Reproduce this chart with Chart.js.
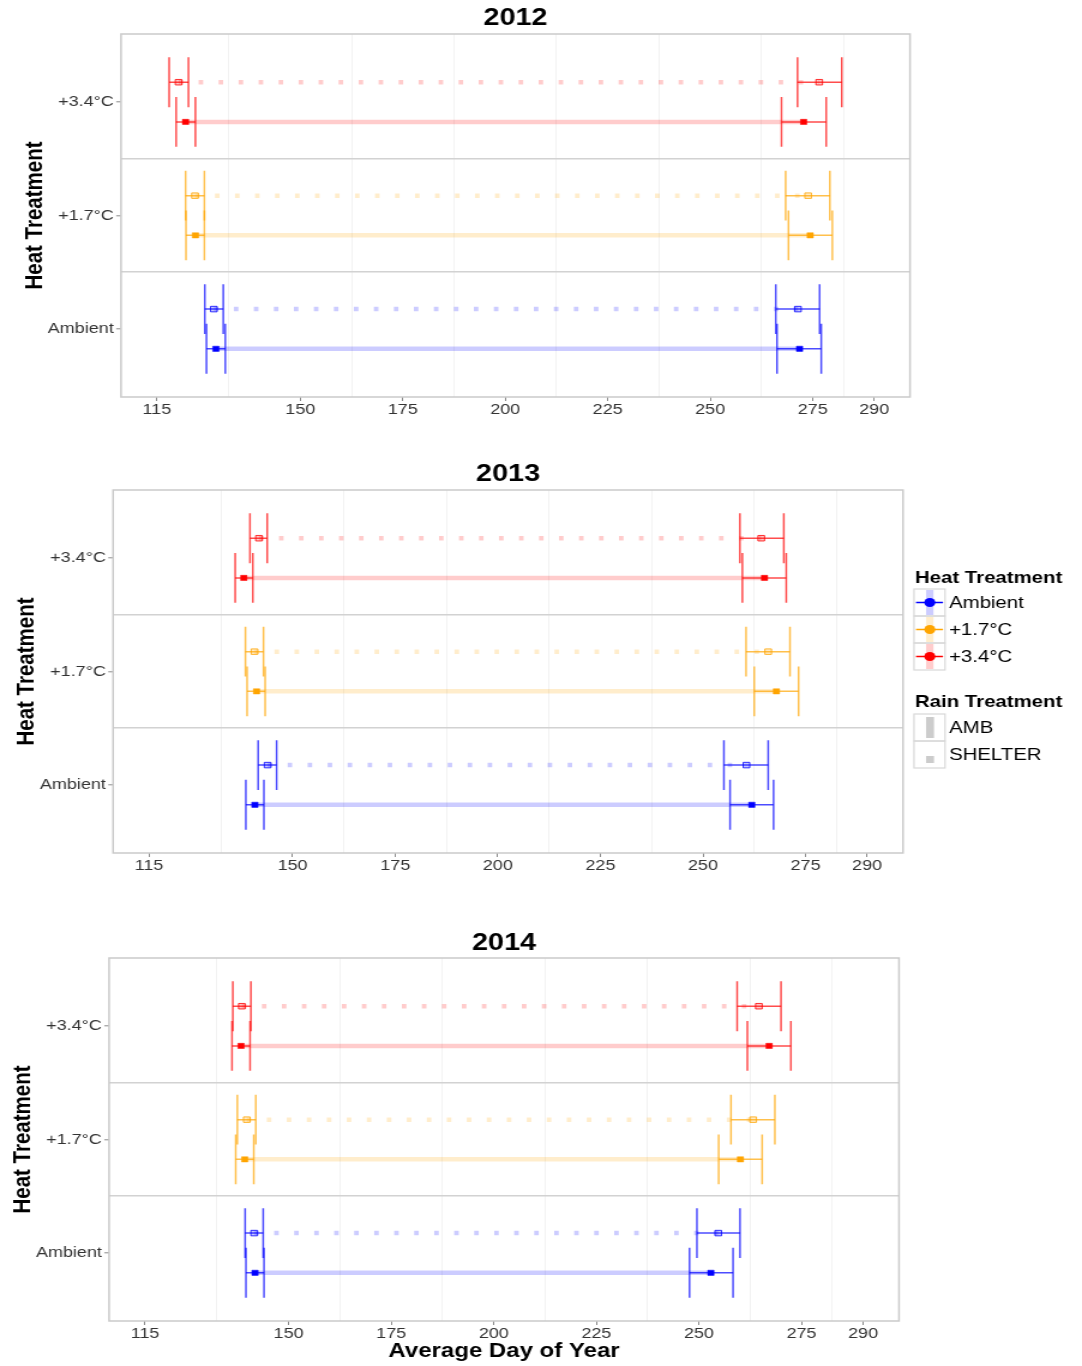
<!DOCTYPE html>
<html>
<head>
<meta charset="utf-8">
<script src="https://cdn.jsdelivr.net/npm/chart.js@4.4.1/dist/chart.umd.min.js"></script>
<style>
  html, body { margin: 0; padding: 0; background: #fff; width: 1082px; height: 1366px; overflow: hidden; }
  canvas.panel { position: absolute; left: 0; transform-origin: 0 0; }
</style>
</head>
<body>
<canvas id="c2012" class="panel"></canvas>
<canvas id="c2013" class="panel"></canvas>
<canvas id="c2014" class="panel"></canvas>
<script>
// ---- categories and axis breaks ----
const heatLevels = ['Ambient', '+1.7°C', '+3.4°C'];
const rainLevels = ['AMB', 'SHELTER'];
const years = ['2012', '2013', '2014'];
const xBreaks = [115, 150, 175, 200, 225, 250, 275, 290];
const xMinorBreaks = [132.5, 162.5, 187.5, 212.5, 237.5, 262.5, 282.5];
const xLimits = [115, 290];

// ---- season start / end, day of year: [low, mean, high] for Ambient, +1.7°C, +3.4°C ----
const start2012Amb     = [[127.1, 129.4, 131.7], [122.1, 124.4, 126.6], [119.7, 122.0, 124.4]];
const end2012Amb       = [[266.3, 271.8, 277.1], [269.1, 274.4, 279.8], [267.4, 272.8, 278.3]];
const start2012Shelter = [[126.7, 128.9, 131.2], [122.0, 124.3, 126.6], [118.0, 120.3, 122.7]];
const end2012Shelter   = [[266.0, 271.4, 276.7], [268.4, 273.9, 279.2], [271.3, 276.6, 282.1]];

const start2013Amb     = [[138.6, 140.8, 143.0], [138.9, 141.2, 143.3], [136.0, 138.1, 140.3]];
const end2013Amb       = [[256.6, 261.9, 267.2], [262.5, 267.9, 273.3], [259.6, 265.0, 270.3]];
const start2013Shelter = [[141.6, 143.9, 146.1], [138.5, 140.7, 142.9], [139.6, 141.8, 143.8]];
const end2013Shelter   = [[255.1, 260.6, 265.9], [260.5, 265.9, 271.2], [259.0, 264.2, 269.7]];

const start2014Amb     = [[139.6, 141.8, 144.0], [137.1, 139.3, 141.5], [136.2, 138.4, 140.6]];
const end2014Amb       = [[247.7, 252.9, 258.3], [254.8, 260.1, 265.4], [261.8, 267.1, 272.4]];
const start2014Shelter = [[139.4, 141.6, 143.8], [137.5, 139.8, 142.0], [136.4, 138.6, 140.8]];
const end2014Shelter   = [[249.5, 254.7, 260.0], [257.8, 263.2, 268.5], [259.3, 264.6, 270.0]];

const seasons = {
  '2012': { AMB: [start2012Amb, end2012Amb], SHELTER: [start2012Shelter, end2012Shelter] },
  '2013': { AMB: [start2013Amb, end2013Amb], SHELTER: [start2013Shelter, end2013Shelter] },
  '2014': { AMB: [start2014Amb, end2014Amb], SHELTER: [start2014Shelter, end2014Shelter] }
};

// ---- styling ----
const heatRGB = ['0,0,255', '255,165,0', '255,0,0'];
const FONT = "'Liberation Sans', Arial, Helvetica, sans-serif";
const CW = 902;                    // drawing width of each canvas
const X_SCALE = 1082 / CW;         // the figure is shown horizontally widened
const ROW_OFFSET = 0.175;          // rain treatments dodged around each heat level
const CAP_HALF = 0.22;             // half-height of error-bar end caps
const TRANSPARENT = 'rgba(0,0,0,0)';
const xPad = (xLimits[1] - xLimits[0]) * 0.05;

// page-pixel layout of the three panels
const panels = [
  { year: '2012', top: 0,   height: 430, area: { left: 121,   right: 910, top: 34,  bottom: 397 },  yTitleX: 35, titleY: 18,  xTitle: false, legend: false },
  { year: '2013', top: 445, height: 430, area: { left: 113.1, right: 903, top: 490, bottom: 853 },  yTitleX: 27, titleY: 474, xTitle: false, legend: true },
  { year: '2014', top: 915, height: 451, area: { left: 109.1, right: 899, top: 958, bottom: 1321 }, yTitleX: 23, titleY: 943, xTitle: true,  legend: false }
];

function seg(points, extra) {
  return Object.assign({ data: points, showLine: true, pointRadius: 0, pointHoverRadius: 0, fill: false, tension: 0 }, extra);
}

function buildDatasets(year) {
  const out = [];
  rainLevels.forEach(rain => {
    const [start, end] = seasons[year][rain];
    const shelter = rain === 'SHELTER';
    heatLevels.forEach((heat, i) => {
      const rgb = heatRGB[i];
      const y = i + 1 + (shelter ? ROW_OFFSET : -ROW_OFFSET);
      const s = start[i], e = end[i];
      // season span, start mean to end mean
      out.push(seg([{ x: s[1], y }, { x: e[1], y }], {
        label: heat + ' ' + rain,
        borderColor: 'rgba(' + rgb + ',0.2)',
        borderWidth: shelter ? 4.5 : 4.5,
        borderDash: shelter ? [4.6 / X_SCALE, 15.4 / X_SCALE] : [],
        borderCapStyle: 'butt',
        order: 4
      }));
      [s, e].forEach(r => {
        // horizontal error bar
        out.push(seg([{ x: r[0], y }, { x: r[2], y }], { borderColor: 'rgba(' + rgb + ',0.7)', borderWidth: 1.5, order: 3 }));
        // end caps
        [r[0], r[2]].forEach(v => {
          out.push(seg([{ x: v, y: y - CAP_HALF }, { x: v, y: y + CAP_HALF }], { borderColor: 'rgba(' + rgb + ',0.7)', borderWidth: 1.5, order: 2 }));
        });
      });
      // mean markers
      out.push({
        data: [{ x: s[1], y }, { x: e[1], y }],
        showLine: false,
        pointStyle: 'rect',
        pointRadius: shelter ? 3.9 : 3.7,
        pointHoverRadius: shelter ? 3.9 : 3.7,
        pointBackgroundColor: shelter ? 'rgba(' + rgb + ',0.22)' : 'rgb(' + rgb + ')',
        pointBorderColor: shelter ? 'rgba(' + rgb + ',0.8)' : 'rgb(' + rgb + ')',
        pointBorderWidth: shelter ? 1 : 0.5,
        order: 1
      });
    });
  });
  return out;
}

// panel frame and year title
const framePlugin = {
  id: 'frameTitle',
  afterDraw(chart, args, opts) {
    const { ctx, chartArea: a } = chart;
    ctx.save();
    ctx.strokeStyle = '#cacaca';
    ctx.lineWidth = 1.5;
    ctx.strokeRect(a.left, a.top, a.right - a.left, a.bottom - a.top);
    ctx.fillStyle = '#000';
    ctx.font = 'bold 24px ' + FONT;
    ctx.textAlign = 'center';
    ctx.textBaseline = 'middle';
    ctx.fillText(opts.text, (a.left + a.right) / 2, opts.y);
    ctx.restore();
  }
};

// legend for both treatments
const legendPlugin = {
  id: 'treatmentLegend',
  afterDraw(chart, args, opts) {
    if (!opts.show) return;
    const ctx = chart.ctx;
    const X = v => v / X_SCALE, Y = v => v - opts.top;
    const keyL = 914, keyR = 945, keyH = 27;
    ctx.save();
    ctx.textAlign = 'left';
    ctx.textBaseline = 'middle';
    ctx.fillStyle = '#000';
    ctx.font = 'bold 17px ' + FONT;
    ctx.fillText('Heat Treatment', X(915), Y(578));
    heatLevels.forEach((lab, i) => {
      const y0 = 589 + i * keyH, yc = y0 + keyH / 2;
      const rgb = heatRGB[i];
      ctx.fillStyle = 'rgba(' + rgb + ',0.2)';
      ctx.fillRect(X(926), Y(y0 + 1), X(933.5) - X(926), keyH - 2);
      ctx.strokeStyle = 'rgb(' + rgb + ')';
      ctx.lineWidth = 1.5;
      ctx.beginPath(); ctx.moveTo(X(916), Y(yc)); ctx.lineTo(X(943), Y(yc)); ctx.stroke();
      ctx.fillStyle = 'rgb(' + rgb + ')';
      ctx.beginPath(); ctx.arc(X(929.8), Y(yc), 4.6, 0, Math.PI * 2); ctx.fill();
      ctx.strokeStyle = '#d8d8d8';
      ctx.lineWidth = 1.2;
      ctx.strokeRect(X(keyL), Y(y0), X(keyR) - X(keyL), keyH);
      ctx.fillStyle = '#000';
      ctx.font = '17px ' + FONT;
      ctx.fillText(lab, X(949), Y(yc + 0.5));
    });
    ctx.font = 'bold 17px ' + FONT;
    ctx.fillText('Rain Treatment', X(915), Y(702));
    rainLevels.forEach((lab, i) => {
      const y0 = 714 + i * keyH, yc = y0 + keyH / 2;
      ctx.fillStyle = '#cccccc';
      if (lab === 'AMB') ctx.fillRect(X(926), Y(717), X(934) - X(926), 21);
      else ctx.fillRect(X(926), Y(756), X(934) - X(926), 7);
      ctx.strokeStyle = '#d8d8d8';
      ctx.lineWidth = 1.2;
      ctx.strokeRect(X(keyL), Y(y0), X(keyR) - X(keyL), keyH);
      ctx.fillStyle = '#000';
      ctx.font = '17px ' + FONT;
      ctx.fillText(lab, X(949), Y(yc + 0.5));
    });
    ctx.restore();
  }
};

function makeChart(p) {
  const cv = document.getElementById('c' + p.year);
  cv.width = CW; cv.height = p.height;
  cv.style.width = CW + 'px'; cv.style.height = p.height + 'px';
  cv.style.top = p.top + 'px';
  const left = p.area.left / X_SCALE;
  const right = p.area.right / X_SCALE;
  const top = p.area.top - p.top;
  const bottom = p.area.bottom - p.top;
  const yTitleFont = 20.5;
  const yTitlePad = p.yTitleX / X_SCALE - yTitleFont * 1.2 / 2;

  new Chart(cv, {
    type: 'scatter',
    data: { datasets: buildDatasets(p.year) },
    options: {
      responsive: false,
      maintainAspectRatio: false,
      devicePixelRatio: 1,
      animation: false,
      events: [],
      layout: { padding: { left: 0, right: CW - right, top: top, bottom: 0 } },
      plugins: {
        legend: { display: false },
        tooltip: { enabled: false },
        frameTitle: { text: p.year, y: p.titleY - p.top },
        treatmentLegend: { show: p.legend, top: p.top }
      },
      scales: {
        x: {
          type: 'linear',
          min: xLimits[0] - xPad,
          max: xLimits[1] + xPad,
          afterBuildTicks: ax => {
            ax.ticks = xBreaks.concat(xMinorBreaks).sort((a, b) => a - b).map(v => ({ value: v }));
          },
          afterFit: ax => { ax.height = p.height - bottom; },
          border: { display: false },
          grid: {
            color: c => (c.tick && xMinorBreaks.includes(c.tick.value)) ? '#f2f2f2' : TRANSPARENT,
            lineWidth: 1,
            tickLength: 4,
            tickWidth: 1,
            tickColor: c => (c.tick && xBreaks.includes(c.tick.value)) ? '#8a8a8a' : TRANSPARENT
          },
          ticks: {
            autoSkip: false,
            maxRotation: 0,
            padding: 0,
            color: '#333',
            font: { family: FONT, size: 15 },
            callback: v => xBreaks.includes(v) ? String(v) : ''
          },
          title: {
            display: p.xTitle,
            text: 'Average Day of Year',
            color: '#000',
            font: { family: FONT, size: 20, weight: 'bold' },
            padding: { top: 0, bottom: 3 }
          }
        },
        y: {
          type: 'linear',
          min: 0.4,
          max: 3.6,
          afterBuildTicks: ax => { ax.ticks = [1, 1.5, 2, 2.5, 3].map(v => ({ value: v })); },
          afterFit: ax => { ax.width = left; },
          border: { display: false },
          grid: {
            color: c => (c.tick && !Number.isInteger(c.tick.value)) ? '#d2d2d2' : TRANSPARENT,
            lineWidth: 1.6,
            tickLength: 4,
            tickWidth: 1,
            tickColor: c => (c.tick && Number.isInteger(c.tick.value)) ? '#8a8a8a' : TRANSPARENT
          },
          ticks: {
            autoSkip: false,
            padding: 2,
            color: '#333',
            font: { family: FONT, size: 15 },
            callback: v => Number.isInteger(v) ? heatLevels[v - 1] : ''
          },
          title: {
            display: true,
            text: 'Heat Treatment',
            color: '#000',
            font: { family: FONT, size: yTitleFont, weight: 'bold' },
            padding: { top: yTitlePad, bottom: 0 }
          }
        }
      }
    },
    plugins: [framePlugin, legendPlugin]
  });
  cv.style.transform = 'scaleX(' + X_SCALE + ')';
}

panels.forEach(makeChart);
</script>
</body>
</html>
